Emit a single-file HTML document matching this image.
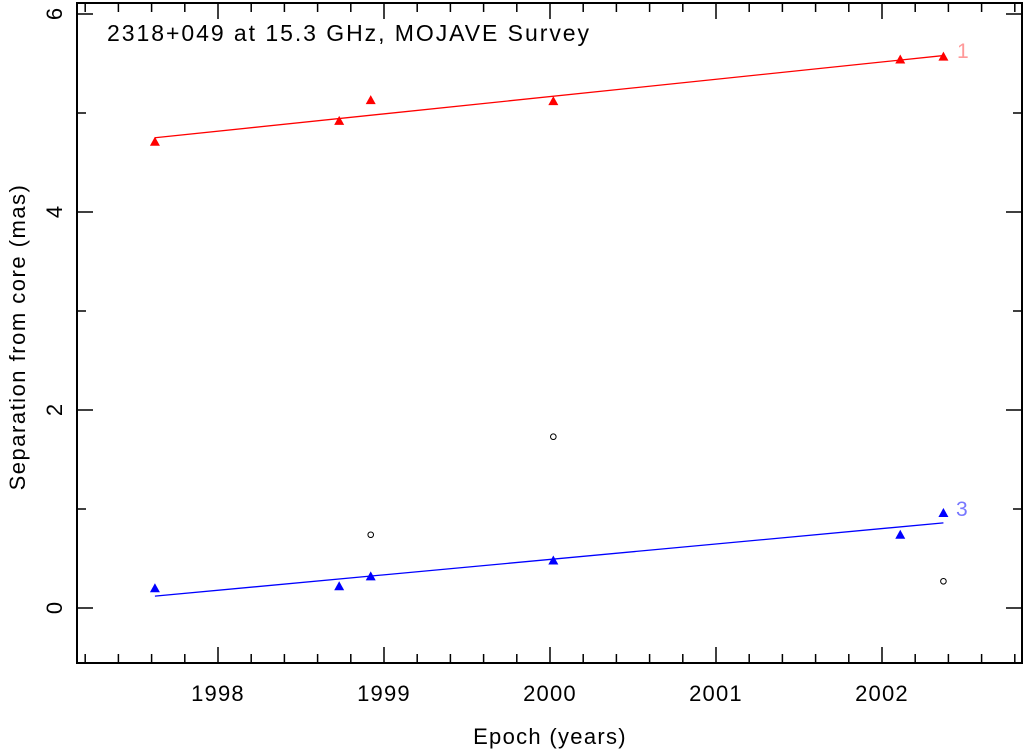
<!DOCTYPE html>
<html><head><meta charset="utf-8"><style>
body{margin:0;background:#fff;}
svg{display:block;font-family:"Liberation Sans","DejaVu Sans",sans-serif;}
</style></head><body>
<svg id="chart" width="1027" height="750" xmlns="http://www.w3.org/2000/svg">
<rect x="77" y="3" width="945" height="660" fill="none" stroke="#000" stroke-width="2"/>
<g id="axes"></g>
<g id="marks"></g>
<text x="107" y="41" font-size="23" letter-spacing="1.95" fill="#000">2318+049 at 15.3 GHz, MOJAVE Survey</text>
<text x="550" y="744" font-size="22" letter-spacing="1.3" text-anchor="middle">Epoch (years)</text>
<text transform="translate(25,337) rotate(-90)" font-size="22" letter-spacing="1.5" text-anchor="middle">Separation from core (mas)</text>
</svg>
<script>
const redX=[1997.62,1998.73,1998.92,2000.02,2002.11,2002.37];
const redY=[4.71,4.92,5.13,5.12,5.54,5.57];
const redFit=[[1997.62,4.75],[2002.37,5.58]];
const blueX=[1997.62,1998.73,1998.92,2000.02,2002.11,2002.37];
const blueY=[0.20,0.22,0.32,0.48,0.74,0.96];
const blueFit=[[1997.62,0.12],[2002.37,0.86]];
const circX=[1998.92,2000.02,2002.37];
const circY=[0.74,1.73,0.27];
const xTicks=[1998,1999,2000,2001,2002];
const yTicks=[0,2,4,6];

const sx=v=>218+(v-1998)*166;
const sy=v=>608-v*99;
const NS="http://www.w3.org/2000/svg";
const ax=document.getElementById('axes'), mk=document.getElementById('marks');
function el(t,a,p){const e=document.createElementNS(NS,t);for(const k in a)e.setAttribute(k,a[k]);p.appendChild(e);return e;}
for(let v=1997.2;v<=2002.85;v+=0.2){
  const major=Math.abs(v-Math.round(v))<0.01;const x=sx(v);const L=major?16:9;
  const t=el('path',{d:`M${x},663V${663-L}M${x},3V${3+L}`,stroke:'#000','stroke-width':1.5},ax);
  
  
}
xTicks.forEach(v=>{const t=el('text',{x:sx(v),y:701,'font-size':22,'letter-spacing':1.2,'text-anchor':'middle'},ax);t.textContent=v;
  
  });
for(let v=0;v<=6;v++){
  const y=sy(v);const L=v%2==0?16:9;
  const t=el('path',{d:`M77,${y}H${77+L}M1022,${y}H${1022-L}`,stroke:'#000','stroke-width':1.5},ax);
  
  
}
yTicks.forEach(v=>{const t=el('text',{transform:`translate(62,${sy(v)}) rotate(-90)`,'font-size':22,'text-anchor':'middle'},ax);t.textContent=v;
  
  });
function fit(f,c,name){const l=el('line',{x1:sx(f[0][0]),y1:sy(f[0][1]),x2:sx(f[1][0]),y2:sy(f[1][1]),stroke:c,'stroke-width':1.3},mk);
  
  }
function tri(xs,ys,c,name){xs.forEach((x,i)=>{const cx=sx(x),cy=sy(ys[i]);
  const p=el('polygon',{points:`${cx},${cy-5} ${cx-5},${cy+4} ${cx+5},${cy+4}`,fill:c},mk);
  
  });}
fit(redFit,'#f00','component-1-fit');
fit(blueFit,'#00f','component-3-fit');
tri(redX,redY,'#f00','component-1-point');
tri(blueX,blueY,'#00f','component-3-point');
circX.forEach((x,i)=>{const c=el('circle',{cx:sx(x),cy:sy(circY[i]),r:2.8,fill:'none',stroke:'#000','stroke-width':1},mk);
  
  });
const l1=el('text',{x:957,y:58,'font-size':21,fill:'#ff9999'},mk);l1.textContent='1';


const l3=el('text',{x:956,y:516,'font-size':21,fill:'#7777ff'},mk);l3.textContent='3';


</script>
</body></html>
